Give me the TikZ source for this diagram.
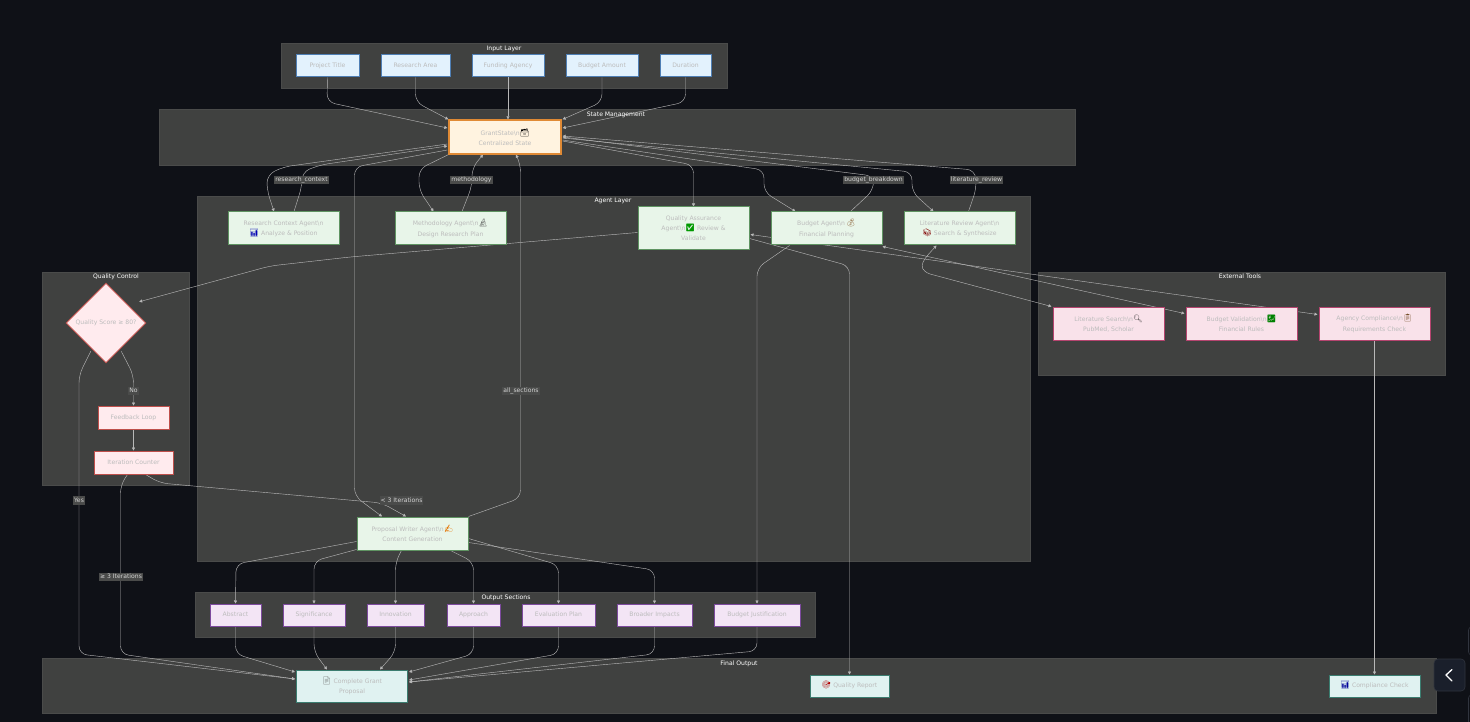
\documentclass[tikz,border=0pt]{standalone}
\usepackage{fontspec}
\setmainfont{DejaVu Sans}
\newfontfamily\emo{Noto Emoji}
\usetikzlibrary{arrows.meta,calc,shapes.geometric}
\pgfdeclarelayer{grp}
\pgfdeclarelayer{edg}
\pgfsetlayers{grp,edg,main}
\definecolor{bgc}{HTML}{0F1117}
\definecolor{grpc}{HTML}{404140}
\definecolor{grpb}{HTML}{4A4B4A}
\definecolor{txtc}{HTML}{BCBCBC}
\definecolor{edgec}{HTML}{B8B8B8}
\definecolor{HTMLblue}{HTML}{4F7FB5}\definecolor{HTMLbluef}{HTML}{E3F2FD}
\definecolor{HTMLor}{HTML}{E08A35}\definecolor{HTMLorf}{HTML}{FFF3E0}
\definecolor{HTMLgr}{HTML}{5F9462}\definecolor{HTMLgrf}{HTML}{E8F5E9}
\definecolor{HTMLpk}{HTML}{B5446F}\definecolor{HTMLpkf}{HTML}{F9E2EA}
\definecolor{HTMLrd}{HTML}{BF4F4B}\definecolor{HTMLrdf}{HTML}{FFEBEE}
\definecolor{HTMLpu}{HTML}{7D4A9E}\definecolor{HTMLpuf}{HTML}{F3E5F5}
\definecolor{HTMLte}{HTML}{3B7D70}\definecolor{HTMLtef}{HTML}{E0F2F1}
\definecolor{HTMLlab}{HTML}{D4D4D4}
\definecolor{HTMLbtn}{HTML}{1A1F2B}
\definecolor{HTMLbtb}{HTML}{30343E}
\tikzset{
 x=1pt,y=-1pt,
 every node/.style={font=\fontsize{6.1}{10.2}\selectfont,text=txtc,align=center,inner sep=0pt},
 oneline/.style={text height=4.6pt,text depth=1.4pt},
 box/.style={draw,line width=1pt,rectangle},
 inbox/.style={box,oneline,draw=HTMLblue,fill=HTMLbluef},
 statebox/.style={box,line width=1.3pt,draw=HTMLor,fill=HTMLorf},
 agentbox/.style={box,draw=HTMLgr,fill=HTMLgrf},
 toolbox/.style={box,draw=HTMLpk,fill=HTMLpkf},
 qcbox/.style={box,oneline,draw=HTMLrd,fill=HTMLrdf},
 outbox/.style={box,oneline,draw=HTMLpu,fill=HTMLpuf},
 finbox/.style={box,draw=HTMLte,fill=HTMLtef},
 grpbox/.style={draw=grpb,fill=grpc,line width=0.6pt},
 grptitle/.style={oneline,text=white,font=\fontsize{6.1}{7}\selectfont},
 elabel/.style={oneline,fill=grpb,text=HTMLlab,inner xsep=1pt,inner ysep=1.2pt,font=\fontsize{6.1}{7}\selectfont},
 edge/.style={draw=edgec,line width=0.42pt,rounded corners=8pt,-{Triangle[length=3pt,width=3pt]}},
 twoway/.style={edge,{Triangle[length=3pt,width=3pt]}-{Triangle[length=3pt,width=3pt]}},
}
\newcommand{\bsn}{\textbackslash n}
\newcommand{\emj}[2]{{\emo\fontsize{7.6}{10.2}\selectfont\color{#1}#2}}
\begin{document}
\begin{tikzpicture}
\useasboundingbox (0,0) rectangle (1470,722);
\begin{pgfonlayer}{grp}
\fill[bgc] (0,0) rectangle (1470,722);
\path[grpbox] (281,43) rectangle (727,88);
\path[grpbox] (159,109) rectangle (1075,165);
\path[grpbox] (197,196) rectangle (1030,561);
\path[grpbox] (42,272) rectangle (189,485);
\path[grpbox] (1038,272) rectangle (1445,375);
\path[grpbox] (195,592) rectangle (815,637);
\path[grpbox] (42,658) rectangle (1436,713);
\end{pgfonlayer}
% group titles
\node[grptitle] (tInput) at (504,48.5) {Input Layer};
\node[grptitle] (tState) at (616,115) {State Management};
\node[grptitle] (tAgent) at (613,201) {Agent Layer};
\node[grptitle] (tQC) at (116,277) {Quality Control};
\node[grptitle] (tExt) at (1240,277) {External Tools};
\node[grptitle] (tOut) at (506,598) {Output Sections};
\node[grptitle] (tFin) at (739,664) {Final Output};
% input
\node[inbox,minimum width=63,minimum height=22] (pt) at (327.5,66) {Project Title};
\node[inbox,minimum width=69,minimum height=22] (ra) at (415.5,66) {Research Area};
\node[inbox,minimum width=72,minimum height=22] (fa) at (508,66) {Funding Agency};
\node[inbox,minimum width=72,minimum height=22] (ba) at (602,66) {Budget Amount};
\node[inbox,minimum width=51,minimum height=22] (du) at (685.5,66) {Duration};
% state
\node[statebox,minimum width=112,minimum height=34] (st) at (505,137) {GrantState\bsn\emj{black}{🗃}\\Centralized State};
% agents
\node[agentbox,minimum width=111,minimum height=33] (rc) at (283.5,228.5) {Research Context Agent\bsn\\\emj{blue!70!black}{📊} Analyze \& Position};
\node[agentbox,minimum width=111,minimum height=33] (me) at (450.5,228.5) {Methodology Agent\bsn\emj{black!70}{🔬}\\Design Research Plan};
\node[agentbox,minimum width=111,minimum height=43] (qa) at (693.5,228.5) {Quality Assurance\\Agent\bsn\emj{green!60!black}{✅} Review \&\\Validate};
\node[agentbox,minimum width=111,minimum height=33] (bu) at (826.5,228.5) {Budget Agent\bsn\,\emj{brown!70!black}{💰}\\Financial Planning};
\node[agentbox,minimum width=111,minimum height=33] (li) at (959.5,228.5) {Literature Review Agent\bsn\\\emj{red!50!black}{📚} Search \& Synthesize};
\node[agentbox,minimum width=111,minimum height=33] (wr) at (412.5,533.5) {Proposal Writer Agent\bsn\emj{orange!90!black}{✍}\\Content Generation};
% tools
\node[toolbox,minimum width=111,minimum height=33] (ls) at (1108.5,323.5) {Literature Search\bsn\emj{black!80}{🔍}\\PubMed, Scholar};
\node[toolbox,minimum width=111,minimum height=33] (bv) at (1241.5,323.5) {Budget Validation\bsn\emj{green!50!black}{💹}\\Financial Rules};
\node[toolbox,minimum width=111,minimum height=33] (ac) at (1374.5,323.5) {Agency Compliance\bsn\emj{brown!60!black}{📋}\\Requirements Check};
% quality control
\node[draw=HTMLrd,fill=HTMLrdf,line width=0.9pt,diamond,aspect=1,minimum width=80,minimum height=80] (qs) at (106,323) {Quality Score ≥ 80?};
\node[qcbox,minimum width=71,minimum height=23] (fb) at (133.5,417.5) {Feedback Loop};
\node[qcbox,minimum width=79,minimum height=23] (ic) at (133.5,462.5) {Iteration Counter};
% outputs
\node[outbox,minimum width=51,minimum height=22] (o1) at (235.5,615) {Abstract};
\node[outbox,minimum width=62,minimum height=22] (o2) at (314,615) {Significance};
\node[outbox,minimum width=57,minimum height=22] (o3) at (395.5,615) {Innovation};
\node[outbox,minimum width=53,minimum height=22] (o4) at (473.5,615) {Approach};
\node[outbox,minimum width=73,minimum height=22] (o5) at (558.5,615) {Evaluation Plan};
\node[outbox,minimum width=75,minimum height=22] (o6) at (654.5,615) {Broader Impacts};
\node[outbox,minimum width=86,minimum height=22] (o7) at (757,615) {Budget Justification};
% final
\node[finbox,minimum width=111,minimum height=32] (cg) at (352,686) {\emj{black!60}{📄} Complete Grant\\Proposal};
\node[finbox,oneline,minimum width=79,minimum height=22] (qr) at (849.5,686) {\emj{red!70!black}{🎯} Quality Report};
\node[finbox,oneline,minimum width=91,minimum height=22] (cc) at (1374.5,686) {\emj{blue!60!black}{📊} Compliance Check};
% edge labels
\node[elabel] (l1) at (301.5,180) {research\_context};
\node[elabel] (l2) at (471.5,180) {methodology};
\node[elabel] (l3) at (873.5,180) {budget\_breakdown};
\node[elabel] (l4) at (976.5,180) {literature\_review};
\node[elabel] (l5) at (521,391) {all\_sections};
\node[elabel] (l6) at (401.5,500.5) {< 3 Iterations};
\node[elabel] (l7) at (121,577) {≥ 3 Iterations};
\node[elabel] (l8) at (133.5,391) {No};
\node[elabel] (l9) at (79,500.5) {Yes};
\begin{pgfonlayer}{edg}
% inputs to state
\draw[edge] (pt.south) -- (327,102) -- ($(st.west)+(-1,-9)$);
\draw[edge] (ra.south) -- (415.5,102) -- ($(st.north west)+(0,0)$);
\draw[edge] (fa.south) -- (fa.south|-st.north);
\draw[edge] (ba.south) -- (602,102) -- ($(st.north east)+(1,0)$);
\draw[edge] (du.south) -- (685.5,102) -- ($(st.east)+(1,-9)$);
% state and research context
\draw[edge] ($(st.west)+(-1,7)$) -- (283,167) -- (267,175) -- (267,190) -- ($(rc.north)+(-9.5,0)$);
\draw[edge] ($(rc.north)+(10.5,0)$) -- (302,186) -- (302,172) -- (320,165) -- ($(st.west)+(-1,9)$);
% state and methodology
\draw[edge] ($(st.south west)+(0,0)$) -- (419,169) -- (419,190) -- ($(me.north)+(-17,0)$);
\draw[edge] ($(me.north)+(11.5,0)$) -- (472,186) -- (472,168) -- ($(st.south)+(-22,0)$);
% state and writer
\draw[edge] ($(st.west)+(-1,13)$) -- (354.5,167) -- (354.5,496) -- ($(wr.north)+(-30.5,0)$);
\draw[edge] ($(wr.north east)+(0,0)$) -- (520.5,498) -- (520.5,164) -- ($(st.south)+(11,0)$);
% state to QA, budget, literature
\draw[edge] ($(st.east)+(1,4)$) -- (693.5,165) -- (qa.north);
\draw[edge] ($(st.east)+(1,3)$) -- (764,170) -- (764,192) -- ($(bu.north)+(-31,0)$);
\draw[edge] ($(bu.north)+(24,0)$) -- (873.5,190) -- (873.5,176) -- ($(st.east)+(1,0)$);
\draw[edge] ($(st.east)+(1,1)$) -- (912,172) -- (912,192) -- ($(li.north)+(-26,0)$);
\draw[edge] ($(li.north)+(9,0)$) -- (976.5,188) -- (975,170) -- ($(st.east)+(1,-1)$);
% QA to quality score, to report
\draw[edge] ($(qa.west)+(0,4)$) -- (350,257) -- (270,266) -- ($(qs.north east)+(13,-1)$);
\draw[edge] ($(qa.east)+(0,10)$) -- (849.5,266) -- (qr.north);
% quality control
\draw[edge] ($(qs.south east)+(-5,8)$) -- (133.5,375) -- (fb.north);
\draw[edge] (fb.south) -- (ic.north);
\draw[edge] ($(ic.south)+(12,0)$) -- (160,483) -- (382,503) -- ($(wr.north)+(-6.5,0)$);
\draw[edge] ($(ic.south)+(-6,0)$) -- (120.5,485) -- (120.5,654) -- ($(cg.west)+(-1,-7)$);
\draw[edge] ($(qs.south west)+(5,8)$) -- (79,375) -- (79,654) -- ($(cg.west)+(-1,-7)$);
% writer to outputs
\draw[edge] ($(wr.west)+(0,8)$) -- (236,564) -- (o1.north);
\draw[edge] ($(wr.south west)+(0,-1)$) -- (314,561) -- (o2.north);
\draw[edge] ($(wr.south)+(-11,0)$) -- (395.5,562) -- (o3.north);
\draw[edge] ($(wr.south)+(38,0)$) -- (473.5,562) -- (o4.north);
\draw[edge] ($(wr.east)+(0,5)$) -- (558.5,565) -- (o5.north);
\draw[edge] ($(wr.east)+(0,9)$) -- (654.5,570) -- (o6.north);
\draw[edge] ($(bu.south)+(-37,0)$) -- (757,268) -- (o7.north);
% outputs to complete
\draw[edge] (o1.south) -- (235.5,654) -- ($(cg.west)+(-1,-14)$);
\draw[edge] (o2.south) -- (314,652) -- ($(cg.north)+(-25,0)$);
\draw[edge] (o3.south) -- (395.5,652) -- ($(cg.north)+(28,0)$);
\draw[edge] (o4.south) -- (473.5,654) -- ($(cg.east)+(1,-14)$);
\draw[edge] (o5.south) -- (558.5,654) -- ($(cg.east)+(1,-6)$);
\draw[edge] (o6.south) -- (654.5,654) -- ($(cg.east)+(1,-4)$);
\draw[edge] (o7.south) -- (757,651) -- ($(cg.east)+(1,-4)$);
% tools
\draw[twoway,rounded corners=0pt] ($(li.south)+(-23,0)$) .. controls (926,257) and (914,268) .. (930,274) -- ($(ls.north west)+(-1,0)$);
\draw[twoway] ($(bu.south east)+(0,1)$) -- ($(bv.west)+(-1,-10)$);
\draw[twoway] ($(qa.east)+(1,6)$) -- ($(ac.west)+(-1,-9)$);
\draw[edge] (ac.south) -- (cc.north);
\end{pgfonlayer}
% side button
\draw[fill=HTMLbtn,draw=HTMLbtb,line width=0.6pt,rounded corners=4pt] (1434,659) rectangle (1465,691);
\draw[white,line width=1.3pt,line cap=round,line join=round] (1452,669.5) -- (1446,675) -- (1452,681);
\draw[HTMLbtb,line width=0.6pt,rounded corners=3pt] (1470,627) -- (1468.5,627) -- (1468.5,655) -- (1470,655);
\draw[HTMLbtb,line width=0.6pt,rounded corners=3pt] (1470,695) -- (1468.5,695) -- (1468.5,722);
\end{tikzpicture}
\end{document}
